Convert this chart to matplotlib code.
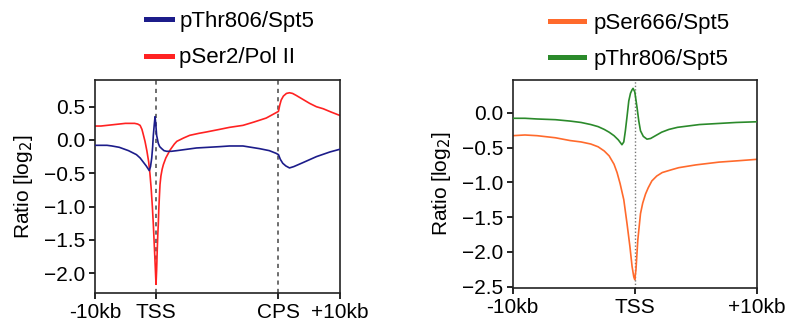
import matplotlib
matplotlib.use("Agg")
import matplotlib.pyplot as plt

plt.rcParams['font.family'] = ['Liberation Sans', 'DejaVu Sans']

# left panel: metagene, x in kb-like units (TSS=0, CPS=20, gene body scaled)
left_ticks = [-10, 0, 20, 30]
left_ticklabels = ["-10kb", "TSS", "CPS", "+10kb"]
left_yticks = [0.5, 0.0, -0.5, -1.0, -1.5, -2.0]

thr_x = [-10, -8, -7.2, -6, -5.4, -4.5, -3.2, -2.6, -2.1, -1.6, -1.1, -0.9, -0.7, -0.55, -0.44,
         -0.3, -0.16, -0.05, 0.1, 0.37, 0.6, 0.93, 1.3, 1.75, 2.5, 3.4, 5, 6.6, 8.5, 10.4, 12,
         14.2, 16.9, 18.5, 19.6, 20, 20.3, 20.7, 21.2, 21.8, 22.5, 24, 26.2, 28.4, 30]
thr_y = [-0.08, -0.08, -0.09, -0.11, -0.13, -0.16, -0.22, -0.27, -0.33, -0.39, -0.46, -0.40, -0.27, -0.10, 0.07,
         0.22, 0.35, 0.25, 0.07, -0.05, -0.10, -0.13, -0.16, -0.17, -0.17, -0.16, -0.14, -0.12, -0.11, -0.10, -0.09,
         -0.09, -0.13, -0.16, -0.20, -0.22, -0.29, -0.35, -0.39, -0.42, -0.40, -0.34, -0.25, -0.18, -0.14]

ser2_x = [-10, -9, -8, -7, -6, -5, -4, -3.5, -3, -2.6, -2.3, -2.1, -1.8, -1.5, -1.2, -1.0, -0.8,
          -0.6, -0.44, -0.3, -0.15, -0.05, 0, 0.1, 0.2, 0.3, 0.37, 0.45, 0.55, 0.65, 0.8, 1.0, 1.2,
          1.6, 2.3, 3.0, 3.4, 4.5, 5.5, 7, 8.2, 10.4, 12, 14.2, 16, 18, 19.6, 20, 20.2, 20.44,
          20.8, 21.3, 21.8, 22.3, 22.9, 24, 25.1, 26.2, 27.3, 28.6, 30]
ser2_y = [0.21, 0.21, 0.22, 0.23, 0.24, 0.25, 0.25, 0.25, 0.24, 0.22, 0.16, 0.09, -0.02, -0.16, -0.33, -0.50, -0.72,
          -1.00, -1.27, -1.55, -1.85, -2.07, -2.17, -1.95, -1.65, -1.40, -1.27, -1.05, -0.85, -0.67, -0.54, -0.44, -0.37,
          -0.27, -0.15, -0.06, -0.02, 0.03, 0.07, 0.10, 0.12, 0.16, 0.19, 0.22, 0.27, 0.33, 0.41, 0.43, 0.52, 0.60,
          0.66, 0.70, 0.71, 0.70, 0.67, 0.61, 0.55, 0.50, 0.47, 0.42, 0.37]

# right panel: TSS centred, -10kb..+10kb
right_ticks = [-10, 0, 10]
right_ticklabels = ["-10kb", "TSS", "+10kb"]
right_yticks = [0.0, -0.5, -1.0, -1.5, -2.0, -2.5]

ser666_x = [-10, -9, -8, -6.5, -5.3, -4.4, -3.6, -3, -2.5, -2.1, -1.7, -1.45, -1.2, -0.9, -0.63,
            -0.4, -0.22, -0.08, 0, 0.1, 0.25, 0.47, 0.65, 0.88, 1.1, 1.4, 1.8, 2.25, 3, 3.6,
            5.0, 6.9, 8.5, 10]
ser666_y = [-0.33, -0.32, -0.33, -0.36, -0.40, -0.42, -0.45, -0.49, -0.55, -0.62, -0.74, -0.86, -1.02, -1.25, -1.60,
            -1.92, -2.21, -2.36, -2.40, -2.25, -1.83, -1.45, -1.30, -1.17, -1.08, -0.98, -0.91, -0.86, -0.82, -0.79,
            -0.75, -0.71, -0.69, -0.67]

thr806_x = [-10, -9, -8, -6.5, -5.3, -4.4, -3.6, -3, -2.5, -2.1, -1.7, -1.35, -1.05, -0.9, -0.77,
            -0.63, -0.49, -0.35, -0.22, -0.14, 0, 0.1, 0.19, 0.33, 0.47, 0.7, 1.0, 1.3, 1.7, 2.2,
            2.8, 3.5, 4.4, 5.3, 6.3, 8.3, 10]
thr806_y = [-0.08, -0.08, -0.09, -0.10, -0.12, -0.14, -0.17, -0.20, -0.24, -0.28, -0.33, -0.39, -0.46, -0.42, -0.26,
            -0.05, 0.17, 0.28, 0.33, 0.35, 0.30, 0.18, 0.07, -0.12, -0.26, -0.34, -0.38, -0.37, -0.33, -0.28,
            -0.24, -0.21, -0.19, -0.17, -0.16, -0.14, -0.13]

BLUE = '#1c1c8a'
RED = '#ff2222'
ORANGE = '#ff6a2c'
GREEN = '#2b8a2b'


def style_axes(ax):
    for sp in ax.spines.values():
        sp.set_linewidth(1.2)
        sp.set_color('#222222')
    ax.tick_params(axis='both', labelsize=15, length=4, width=1.2, direction='out', pad=3)


def fmt(v):
    return f"{v:.1f}".replace("-", "\u2212")


fig = plt.figure(figsize=(7.9, 3.24), dpi=100)

# ---- left
ax1 = fig.add_axes([0.120, 0.0957, 0.310, 0.657])
ax1.axvline(0, color='#555555', lw=1.2, ls=(0, (2.5, 2.5)), zorder=1)
ax1.axvline(20, color='#555555', lw=1.2, ls=(0, (2.5, 2.5)), zorder=1)
ax1.plot(thr_x, thr_y, color=BLUE, lw=1.2, label="pThr806/Spt5", zorder=3)
ax1.plot(ser2_x, ser2_y, color=RED, lw=1.2, label="pSer2/Pol II", zorder=2)
ax1.set_xlim(-10, 30)
ax1.set_ylim(-2.3, 0.9)
ax1.set_xticks(left_ticks)
ax1.set_xticklabels(left_ticklabels)
ax1.set_yticks(left_yticks)
ax1.set_yticklabels([fmt(v) for v in left_yticks])
ax1.set_ylabel("Ratio [log$_2$]", fontsize=15, labelpad=6)
style_axes(ax1)
leg1 = ax1.legend(loc='lower left', bbox_to_anchor=(0.208, 1.055), frameon=False, fontsize=16,
                  handlelength=1.2, handletextpad=0.3, labelspacing=0.7, borderpad=0, borderaxespad=0)
for h in leg1.get_lines():
    h.set_linewidth(3.6)

# ---- right
ax2 = fig.add_axes([0.649, 0.111, 0.309, 0.642])
ax2.axvline(0, color='#777777', lw=1.0, ls=(0, (1, 1.5)), zorder=1)
ax2.plot(ser666_x, ser666_y, color=ORANGE, lw=1.2, label="pSer666/Spt5", zorder=2)
ax2.plot(thr806_x, thr806_y, color=GREEN, lw=1.2, label="pThr806/Spt5", zorder=3)
ax2.set_xlim(-10, 10)
ax2.set_ylim(-2.52, 0.47)
ax2.set_xticks(right_ticks)
ax2.set_xticklabels(right_ticklabels)
ax2.set_yticks(right_yticks)
ax2.set_yticklabels([fmt(v) for v in right_yticks])
ax2.set_ylabel("Ratio [log$_2$]", fontsize=15, labelpad=6)
style_axes(ax2)
leg2 = ax2.legend(loc='lower left', bbox_to_anchor=(0.151, 1.047), frameon=False, fontsize=16,
                  handlelength=1.53, handletextpad=0.45, labelspacing=0.7, borderpad=0, borderaxespad=0)
for h in leg2.get_lines():
    h.set_linewidth(3.6)

fig.savefig("out.png", dpi=100)
